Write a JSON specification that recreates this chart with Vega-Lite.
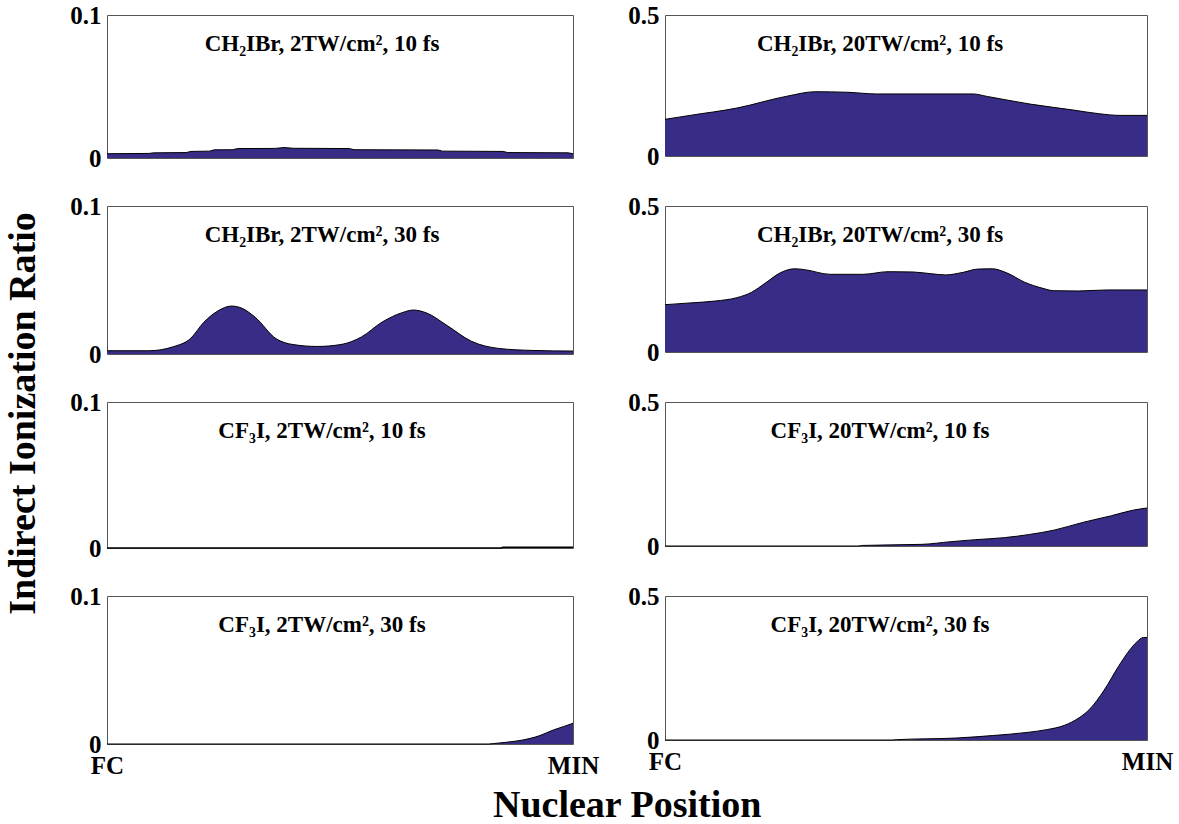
{
  "$schema": "https://vega.github.io/schema/vega-lite/v6.json",
  "background": "white",
  "padding": {"left": 5, "top": 2, "right": 5, "bottom": 2},
  "config": {
    "font": "Liberation Serif",
    "view": {"stroke": "#555555", "strokeWidth": 1},
    "axis": {
      "labelFont": "Liberation Serif",
      "labelFontWeight": "bold",
      "labelFontSize": 25,
      "labelColor": "black",
      "ticks": false,
      "domain": false,
      "grid": false,
      "title": null,
      "labelFlush": false,
      "labelPadding": 6
    },
    "title": {"font": "Liberation Serif", "fontWeight": "bold", "fontSize": 23, "color": "black"}
  },
  "datasets": {
    "p1": [{"x":0,"y":0.003},{"x":0.09,"y":0.0032},{"x":0.1,"y":0.0036},{"x":0.17,"y":0.0038},{"x":0.18,"y":0.0046},{"x":0.22,"y":0.0048},{"x":0.23,"y":0.0057},{"x":0.27,"y":0.0058},{"x":0.28,"y":0.0066},{"x":0.36,"y":0.0067},{"x":0.38,"y":0.0073},{"x":0.4,"y":0.0068},{"x":0.52,"y":0.0066},{"x":0.53,"y":0.0058},{"x":0.71,"y":0.0056},{"x":0.72,"y":0.0048},{"x":0.85,"y":0.0046},{"x":0.86,"y":0.0038},{"x":0.99,"y":0.0036},{"x":1,"y":0.003}],
    "p2": [{"x":0,"y":0.13},{"x":0.052,"y":0.144},{"x":0.149,"y":0.17},{"x":0.253,"y":0.212},{"x":0.312,"y":0.228},{"x":0.379,"y":0.226},{"x":0.439,"y":0.22},{"x":0.639,"y":0.22},{"x":0.669,"y":0.211},{"x":0.758,"y":0.184},{"x":0.847,"y":0.163},{"x":0.9,"y":0.15},{"x":0.944,"y":0.144},{"x":1,"y":0.144}],
    "p3": [{"x":0,"y":0.0022},{"x":0.09,"y":0.0022},{"x":0.142,"y":0.0049},{"x":0.179,"y":0.0104},{"x":0.208,"y":0.0215},{"x":0.2375,"y":0.029},{"x":0.267,"y":0.0324},{"x":0.289,"y":0.031},{"x":0.318,"y":0.0248},{"x":0.3625,"y":0.0104},{"x":0.399,"y":0.0064},{"x":0.451,"y":0.0051},{"x":0.502,"y":0.0064},{"x":0.546,"y":0.0115},{"x":0.59,"y":0.0215},{"x":0.635,"y":0.0281},{"x":0.657,"y":0.0297},{"x":0.686,"y":0.0277},{"x":0.73,"y":0.0192},{"x":0.782,"y":0.0086},{"x":0.84,"y":0.0038},{"x":0.914,"y":0.0024},{"x":1,"y":0.002}],
    "p4": [{"x":0,"y":0.162},{"x":0.052,"y":0.168},{"x":0.104,"y":0.1745},{"x":0.149,"y":0.186},{"x":0.179,"y":0.204},{"x":0.209,"y":0.237},{"x":0.239,"y":0.271},{"x":0.269,"y":0.285},{"x":0.2896,"y":0.282},{"x":0.343,"y":0.266},{"x":0.41,"y":0.266},{"x":0.463,"y":0.275},{"x":0.515,"y":0.274},{"x":0.552,"y":0.268},{"x":0.582,"y":0.264},{"x":0.619,"y":0.273},{"x":0.649,"y":0.284},{"x":0.679,"y":0.285},{"x":0.709,"y":0.271},{"x":0.746,"y":0.239},{"x":0.784,"y":0.218},{"x":0.806,"y":0.21},{"x":0.858,"y":0.209},{"x":0.918,"y":0.2125},{"x":1,"y":0.2125}],
    "p5": [{"x":0,"y":0},{"x":0.845,"y":0},{"x":0.85,"y":0.0005},{"x":1,"y":0.0005}],
    "p6": [{"x":0,"y":0},{"x":0.4,"y":0},{"x":0.41,"y":0.002},{"x":0.533,"y":0.0057},{"x":0.593,"y":0.015},{"x":0.644,"y":0.022},{"x":0.704,"y":0.029},{"x":0.756,"y":0.04},{"x":0.807,"y":0.055},{"x":0.867,"y":0.082},{"x":0.926,"y":0.105},{"x":0.97,"y":0.124},{"x":1,"y":0.132}],
    "p7": [{"x":0,"y":0},{"x":0.818,"y":0},{"x":0.83,"y":0.0003},{"x":0.855,"y":0.0011},{"x":0.892,"y":0.0027},{"x":0.929,"y":0.0057},{"x":0.958,"y":0.0095},{"x":0.98,"y":0.0118},{"x":1,"y":0.014}],
    "p8": [{"x":0,"y":0},{"x":0.47,"y":0},{"x":0.48,"y":0.001},{"x":0.606,"y":0.007},{"x":0.68,"y":0.0155},{"x":0.755,"y":0.027},{"x":0.792,"y":0.036},{"x":0.829,"y":0.051},{"x":0.859,"y":0.077},{"x":0.881,"y":0.107},{"x":0.911,"y":0.173},{"x":0.941,"y":0.256},{"x":0.963,"y":0.31},{"x":0.978,"y":0.339},{"x":0.993,"y":0.356},{"x":1,"y":0.356}]
  },
  "title": {"text": "Indirect Ionization Ratio", "orient": "left", "fontSize": 38, "anchor": "middle", "offset": 26},
  "vconcat": [
    {
      "title": {"text": "Nuclear Position", "orient": "bottom", "fontSize": 38, "anchor": "middle", "offset": 8, "dx": 6},
      "columns": 2,
      "bounds": "flush",
      "align": "each",
      "spacing": {"row": 48, "column": 92},
      "concat": [
        {
          "width": 466, "height": 143,
          "data": {"name": "p1"},
          "title": {"text": "CH₂IBr, 2TW/cm², 10 fs", "offset": -53, "dx": -18, "anchor": "middle"},
          "mark": {"type": "area", "color": "#372C86", "opacity": 1, "interpolate": "linear", "line": {"color": "black", "strokeWidth": 1}},
          "encoding": {
            "x": {"field": "x", "type": "quantitative", "scale": {"domain": [0, 1], "nice": false, "zero": false}, "axis": null},
            "y": {"field": "y", "type": "quantitative", "scale": {"domain": [0, 0.1], "nice": false}, "axis": {"values": [0, 0.1], "format": "~g"}}
          }
        },
        {
          "width": 482, "height": 141,
          "data": {"name": "p2"},
          "title": {"text": "CH₂IBr, 20TW/cm², 10 fs", "offset": -53, "dx": -26, "anchor": "middle"},
          "mark": {"type": "area", "color": "#372C86", "opacity": 1, "interpolate": "monotone", "line": {"color": "black", "strokeWidth": 1}},
          "encoding": {
            "x": {"field": "x", "type": "quantitative", "scale": {"domain": [0, 1], "nice": false, "zero": false}, "axis": null},
            "y": {"field": "y", "type": "quantitative", "scale": {"domain": [0, 0.5], "nice": false}, "axis": {"values": [0, 0.5], "format": "~g"}}
          }
        },
        {
          "width": 466, "height": 148,
          "data": {"name": "p3"},
          "title": {"text": "CH₂IBr, 2TW/cm², 30 fs", "offset": -53, "dx": -18, "anchor": "middle"},
          "mark": {"type": "area", "color": "#372C86", "opacity": 1, "interpolate": "monotone", "line": {"color": "black", "strokeWidth": 1}},
          "encoding": {
            "x": {"field": "x", "type": "quantitative", "scale": {"domain": [0, 1], "nice": false, "zero": false}, "axis": null},
            "y": {"field": "y", "type": "quantitative", "scale": {"domain": [0, 0.1], "nice": false}, "axis": {"values": [0, 0.1], "format": "~g"}}
          }
        },
        {
          "width": 482, "height": 146,
          "data": {"name": "p4"},
          "title": {"text": "CH₂IBr, 20TW/cm², 30 fs", "offset": -53, "dx": -26, "anchor": "middle"},
          "mark": {"type": "area", "color": "#372C86", "opacity": 1, "interpolate": "monotone", "line": {"color": "black", "strokeWidth": 1}},
          "encoding": {
            "x": {"field": "x", "type": "quantitative", "scale": {"domain": [0, 1], "nice": false, "zero": false}, "axis": null},
            "y": {"field": "y", "type": "quantitative", "scale": {"domain": [0, 0.5], "nice": false}, "axis": {"values": [0, 0.5], "format": "~g"}}
          }
        },
        {
          "width": 466, "height": 146,
          "data": {"name": "p5"},
          "title": {"text": "CF₃I, 2TW/cm², 10 fs", "offset": -53, "dx": -18, "anchor": "middle"},
          "mark": {"type": "area", "color": "#372C86", "opacity": 1, "interpolate": "linear", "line": {"color": "black", "strokeWidth": 1.5}},
          "encoding": {
            "x": {"field": "x", "type": "quantitative", "scale": {"domain": [0, 1], "nice": false, "zero": false}, "axis": null},
            "y": {"field": "y", "type": "quantitative", "scale": {"domain": [0, 0.1], "nice": false}, "axis": {"values": [0, 0.1], "format": "~g"}}
          }
        },
        {
          "width": 482, "height": 144,
          "data": {"name": "p6"},
          "title": {"text": "CF₃I, 20TW/cm², 10 fs", "offset": -53, "dx": -26, "anchor": "middle"},
          "mark": {"type": "area", "color": "#372C86", "opacity": 1, "interpolate": "monotone", "line": {"color": "black", "strokeWidth": 1}},
          "encoding": {
            "x": {"field": "x", "type": "quantitative", "scale": {"domain": [0, 1], "nice": false, "zero": false}, "axis": null},
            "y": {"field": "y", "type": "quantitative", "scale": {"domain": [0, 0.5], "nice": false}, "axis": {"values": [0, 0.5], "format": "~g"}}
          }
        },
        {
          "width": 466, "height": 148,
          "data": {"name": "p7"},
          "title": {"text": "CF₃I, 2TW/cm², 30 fs", "offset": -53, "dx": -18, "anchor": "middle"},
          "mark": {"type": "area", "color": "#372C86", "opacity": 1, "interpolate": "monotone", "line": {"color": "black", "strokeWidth": 1}},
          "encoding": {
            "x": {"field": "x", "type": "quantitative", "scale": {"domain": [0, 1], "nice": false, "zero": false}, "axis": {"values": [0, 1], "labelExpr": "datum.value == 0 ? 'FC' : 'MIN'", "labelPadding": 9}},
            "y": {"field": "y", "type": "quantitative", "scale": {"domain": [0, 0.1], "nice": false}, "axis": {"values": [0, 0.1], "format": "~g"}}
          }
        },
        {
          "width": 482, "height": 144,
          "data": {"name": "p8"},
          "title": {"text": "CF₃I, 20TW/cm², 30 fs", "offset": -53, "dx": -26, "anchor": "middle"},
          "mark": {"type": "area", "color": "#372C86", "opacity": 1, "interpolate": "monotone", "line": {"color": "black", "strokeWidth": 1}},
          "encoding": {
            "x": {"field": "x", "type": "quantitative", "scale": {"domain": [0, 1], "nice": false, "zero": false}, "axis": {"values": [0, 1], "labelExpr": "datum.value == 0 ? 'FC' : 'MIN'", "labelPadding": 9}},
            "y": {"field": "y", "type": "quantitative", "scale": {"domain": [0, 0.5], "nice": false}, "axis": {"values": [0, 0.5], "format": "~g"}}
          }
        }
      ]
    }
  ]
}
